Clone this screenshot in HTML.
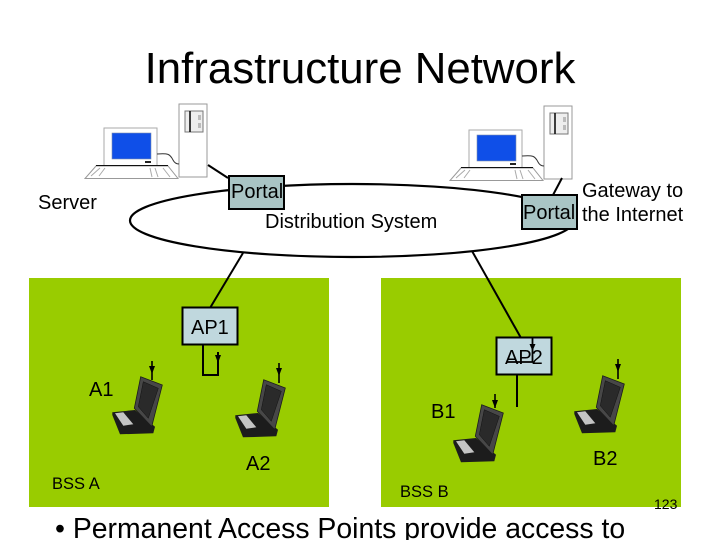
<!DOCTYPE html>
<html>
<head>
<meta charset="utf-8">
<style>
html,body{margin:0;padding:0;background:#fff}
svg{display:block}
text{font-family:"Liberation Sans",sans-serif;fill:#000}
</style>
</head>
<body>
<svg width="720" height="540" viewBox="0 0 720 540" xmlns="http://www.w3.org/2000/svg">
<defs>
<g id="pc">
<rect x="179" y="104" width="28" height="73" fill="#fff" stroke="#999" stroke-width="1"/>
<rect x="185" y="111" width="18" height="21" fill="#eee" stroke="#777" stroke-width="1"/>
<line x1="190" y1="111" x2="190" y2="132" stroke="#111" stroke-width="1.600"/>
<rect x="198" y="115" width="3" height="5" fill="#bbb"/>
<rect x="198" y="123" width="3" height="5" fill="#bbb"/>
<rect x="104" y="128" width="53" height="38" fill="#fff" stroke="#aaa" stroke-width="1"/>
<rect x="112" y="133" width="39" height="26" fill="#0f4fe8" stroke="#7f8fb0" stroke-width="0.600"/>
<rect x="145" y="161" width="6" height="2" fill="#222"/>
<path d="M157 154 C168 153 170 154 173 160 C175 164 178 164 179 164" fill="none" stroke="#333" stroke-width="1"/>
<path d="M96 166 L85 178.500 L178 178.500 L168 166 Z" fill="#fff" stroke="#999" stroke-width="1"/>
<line x1="96" y1="165.500" x2="168" y2="165.500" stroke="#111" stroke-width="1"/>
<path d="M91 176 L100 168 M99 176 L105 168 M150 168 L152 177 M155 168 L158 177 M163 168 L170 177" fill="none" stroke="#aaa" stroke-width="1"/>
</g>
<g id="lap">
<path d="M0.300 36.300 L23 34 L43 50.700 L41.300 57.300 L8 58.300 L0.300 39 Z" fill="#1c1c1c"/>
<path d="M3 37.300 L11.300 36.300 L21.300 48.300 L11.300 49.700 Z" fill="#c4c4c4"/>
<path d="M28.700 0.700 L50.300 9 L39.700 50.700 L22.300 32.300 Z" fill="#474747" stroke="#1c1c1c" stroke-width="0.800"/>
<path d="M31.300 5.700 L46.300 12.300 L36.300 42.300 L26.300 30.700 Z" fill="#2a2a2a" stroke="#111" stroke-width="0.500"/>
</g>
</defs>

<rect x="29" y="278" width="300" height="229" fill="#99cc00"/>
<rect x="381" y="278" width="300" height="229" fill="#99cc00"/>

<text x="360" y="83" font-size="43.800" text-anchor="middle">Infrastructure Network</text>

<use href="#pc"/>
<use href="#pc" transform="translate(365,2)"/>

<ellipse cx="352" cy="220.500" rx="222" ry="36.500" fill="#fff" stroke="#000" stroke-width="2.200"/>

<g stroke="#000" stroke-width="2" fill="none">
<line x1="208" y1="165" x2="228" y2="178"/>
<line x1="562" y1="178" x2="553" y2="195"/>
<line x1="243" y1="253" x2="210" y2="308"/>
<line x1="472" y1="251" x2="521" y2="338"/>
<path d="M203 345 V375 H218 V352"/>
<line x1="517" y1="375" x2="517" y2="407"/>
</g>

<rect x="229" y="176" width="55" height="33" fill="#a9c4c4" stroke="#000" stroke-width="2"/>
<rect x="522" y="195" width="55" height="34" fill="#a9c4c4" stroke="#000" stroke-width="2"/>
<rect x="182.500" y="307.500" width="55" height="37" fill="#c0d8de" stroke="#000" stroke-width="2"/>
<rect x="496.500" y="337.500" width="55" height="37" fill="#c0d8de" stroke="#000" stroke-width="2"/>

<use href="#lap" transform="translate(112,376)"/>
<use href="#lap" transform="translate(235,379)"/>
<use href="#lap" transform="translate(453,404)"/>
<use href="#lap" transform="translate(574,375)"/>

<g stroke="#000" stroke-width="1.600" fill="none">
<line x1="152" y1="361" x2="152" y2="380"/>
<line x1="279" y1="363" x2="279" y2="383"/>
<line x1="495" y1="394" x2="495" y2="408"/>
<line x1="618" y1="359" x2="618" y2="379"/>
<path d="M532.500 338 V362 H507" stroke-width="1.800"/>
</g>
<g fill="#000">
<path d="M149 366 H155 L152 374 Z"/>
<path d="M276 368 H282 L279 376 Z"/>
<path d="M492 400 H498 L495 408 Z"/>
<path d="M615 364 H621 L618 372 Z"/>
<path d="M215 355 H221 L218 363 Z"/>
<path d="M529.500 344 H535.500 L532.500 351 Z"/>
</g>

<g font-size="20">
<text x="38" y="209">Server</text>
<text x="231" y="198">Portal</text>
<text x="265" y="228">Distribution System</text>
<text x="523" y="219">Portal</text>
<text x="582" y="197">Gateway to</text>
<text x="582" y="221">the Internet</text>
<text x="191" y="334">AP1</text>
<text x="505" y="364">AP2</text>
<text x="89" y="396">A1</text>
<text x="431" y="418">B1</text>
<text x="246" y="470">A2</text>
<text x="593" y="465">B2</text>
</g>
<text x="52" y="489" font-size="16.500">BSS A</text>
<text x="400" y="497" font-size="16.500">BSS B</text>
<text x="654" y="509" font-size="14">123</text>
<text x="55" y="538" font-size="28.400">• Permanent Access Points provide access to</text>
</svg>
</body>
</html>
